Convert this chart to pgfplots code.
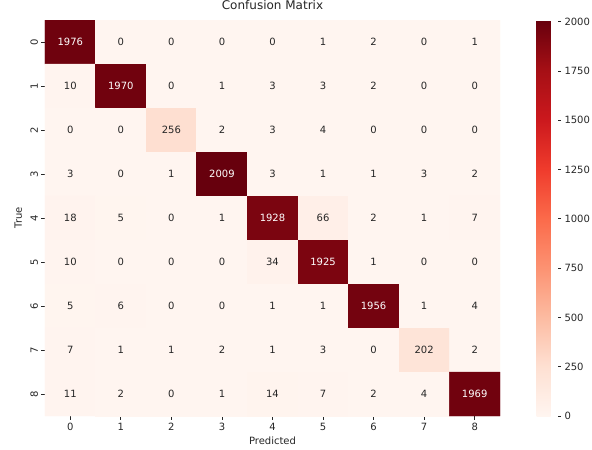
\documentclass[border=0pt]{standalone}
\usepackage{fontspec}
\setmainfont{DejaVu Sans}
\usepackage{pgfplots}
\usepgfplotslibrary{colormaps}
\pgfplotsset{compat=1.18}
\definecolor{txt}{RGB}{38,38,38}
\pgfplotsset{colormap={reds}{rgb255=(255,245,240) rgb255=(254,224,210) rgb255=(252,187,161) rgb255=(252,146,114) rgb255=(251,106,74) rgb255=(239,59,44) rgb255=(203,24,29) rgb255=(165,15,21) rgb255=(103,0,13)}}
\begin{document}
\begin{tikzpicture}[font=\fontsize{10bp}{12bp}\selectfont, text=txt]
\useasboundingbox (0,0) rectangle (592bp,450bp);
\begin{axis}[
  at={(45bp,34bp)}, anchor=south west,
  width=455bp, height=396bp, scale only axis,
  colormap name=reds,
  point meta min=0, point meta max=2009,
  xmin=-0.5, xmax=8.5, ymin=-0.5, ymax=8.5,
  y dir=reverse,
  enlargelimits=false,
  xtick={0,...,8}, ytick={0,...,8},
  axis line style={draw=none},
  tick style={draw=txt, line width=0.8bp},
  major tick length=3.5bp,
  tick align=outside,
  xtick pos=left, ytick pos=left,
  /pgf/number format/assume math mode=true,
  yticklabel style={rotate=90, anchor=south},
  title={Confusion Matrix},
  title style={at={(axis description cs:0.5,1)}, anchor=base, yshift=5bp, font=\fontsize{12bp}{14bp}\selectfont},
  xlabel={Predicted},
  xlabel style={at={(axis description cs:0.5,0)}, anchor=base, yshift=-28bp, font=\fontsize{10bp}{12bp}\selectfont},
  ylabel={True},
  ylabel style={at={(axis description cs:-0.0506,0.5)}, anchor=base, font=\fontsize{10bp}{12bp}\selectfont},
  colorbar,
  colorbar style={
    at={(parent axis.north east)}, anchor=north west, xshift=28bp,
    width=21bp, height=396bp, scale only axis,
    ytick={0,250,...,2000},
    ytick pos=right, yticklabel pos=right,
    axis line style={draw=none},
    tick style={draw=txt, line width=0.8bp},
    major tick length=3.5bp, tick align=outside,
    /pgf/number format/assume math mode=true,
    /pgf/number format/1000 sep={},
    yticklabel style={anchor=west},
  },
  visualization depends on={value \thisrow{c} \as \val},
  nodes near coords={\ifdim\val pt>1000pt\color{white}\else\color{txt}\fi\val},
  every node near coord/.append style={anchor=center},
]
\addplot[matrix plot*, mesh/cols=9, point meta=explicit] table[meta=c] {
x y c
0 0 1976
1 0 0
2 0 0
3 0 0
4 0 0
5 0 1
6 0 2
7 0 0
8 0 1
0 1 10
1 1 1970
2 1 0
3 1 1
4 1 3
5 1 3
6 1 2
7 1 0
8 1 0
0 2 0
1 2 0
2 2 256
3 2 2
4 2 3
5 2 4
6 2 0
7 2 0
8 2 0
0 3 3
1 3 0
2 3 1
3 3 2009
4 3 3
5 3 1
6 3 1
7 3 3
8 3 2
0 4 18
1 4 5
2 4 0
3 4 1
4 4 1928
5 4 66
6 4 2
7 4 1
8 4 7
0 5 10
1 5 0
2 5 0
3 5 0
4 5 34
5 5 1925
6 5 1
7 5 0
8 5 0
0 6 5
1 6 6
2 6 0
3 6 0
4 6 1
5 6 1
6 6 1956
7 6 1
8 6 4
0 7 7
1 7 1
2 7 1
3 7 2
4 7 1
5 7 3
6 7 0
7 7 202
8 7 2
0 8 11
1 8 2
2 8 0
3 8 1
4 8 14
5 8 7
6 8 2
7 8 4
8 8 1969
};
\end{axis}
\end{tikzpicture}
\end{document}
